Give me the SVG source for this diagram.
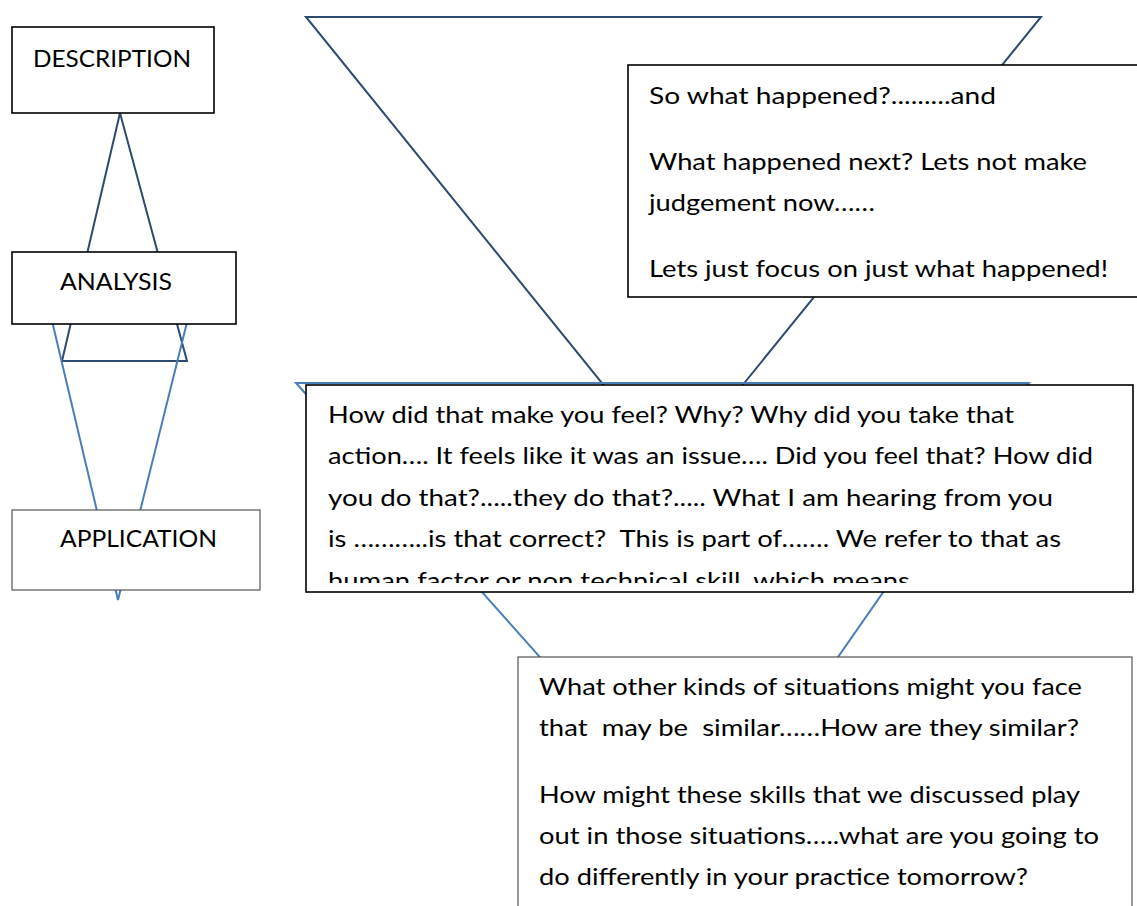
<svg xmlns="http://www.w3.org/2000/svg" width="1137" height="906" viewBox="0 0 1137 906">
<defs>
<style>
.dark{fill:none;stroke:#2E4A6E;stroke-width:2}
.light{fill:none;stroke:#4A7EBB;stroke-width:2}
.box{fill:#fff;stroke:#000;stroke-width:1.6}
.gbox{fill:#fff;stroke:#555;stroke-width:1.2}
.t{font-family:Lato,"Open Sans",sans-serif;font-size:24px;fill:#000;white-space:pre}
</style>
<clipPath id="midclip"><rect x="307" y="386" width="825" height="197"/></clipPath>
</defs>
<g id="connectors">
<polygon class="dark" points="306,17 1041,17 673,471"/>
<polygon class="light" points="296,383 1029,383 707,845"/>
<polygon class="dark" points="120,113 62,361 187,361"/>
<polygon class="light" points="40,270 200,270 118,600"/>
</g>
<g id="description">
<rect class="box" x="12" y="27" width="202" height="86"/>
<text class="t" x="33" y="67" textLength="158" lengthAdjust="spacingAndGlyphs">DESCRIPTION</text>
</g>
<g id="analysis">
<rect class="box" x="12" y="252" width="224" height="72"/>
<text class="t" x="60" y="290" textLength="112" lengthAdjust="spacingAndGlyphs">ANALYSIS</text>
</g>
<g id="application">
<rect class="gbox" x="12" y="510" width="248" height="80"/>
<text class="t" x="60" y="547" textLength="157" lengthAdjust="spacingAndGlyphs">APPLICATION</text>
</g>
<g id="what-happened">
<rect class="box" x="628" y="65" width="520" height="232"/>
<text class="t" x="649" y="104" textLength="347" lengthAdjust="spacingAndGlyphs">So what happened?.........and</text>
<text class="t" x="649" y="170" textLength="438" lengthAdjust="spacingAndGlyphs">What happened next? Lets not make</text>
<text class="t" x="649" y="211" textLength="226" lengthAdjust="spacingAndGlyphs">judgement now……</text>
<text class="t" x="649" y="277" textLength="459" lengthAdjust="spacingAndGlyphs">Lets just focus on just what happened!</text>
</g>
<g id="feelings">
<rect class="box" x="306" y="385" width="827" height="207"/>
<g clip-path="url(#midclip)">
<text class="t" x="328" y="423" textLength="686" lengthAdjust="spacingAndGlyphs">How did that make you feel? Why? Why did you take that</text>
<text class="t" x="328" y="464" textLength="765" lengthAdjust="spacingAndGlyphs">action…. It feels like it was an issue…. Did you feel that? How did</text>
<text class="t" x="328" y="506" textLength="725" lengthAdjust="spacingAndGlyphs">you do that?.....they do that?..... What I am hearing from you</text>
<text class="t" x="328" y="547" textLength="733" lengthAdjust="spacingAndGlyphs">is ………..is that correct?  This is part of……. We refer to that as</text>
<text class="t" x="328" y="589" textLength="582" lengthAdjust="spacingAndGlyphs">human factor or non technical skill, which means</text>
</g>
</g>
<g id="application-questions">
<rect class="gbox" x="518" y="657" width="614" height="260"/>
<text class="t" x="539" y="695" textLength="543" lengthAdjust="spacingAndGlyphs">What other kinds of situations might you face</text>
<text class="t" x="539" y="736" textLength="540" lengthAdjust="spacingAndGlyphs">that  may be  similar……How are they similar?</text>
<text class="t" x="539" y="803" textLength="541" lengthAdjust="spacingAndGlyphs">How might these skills that we discussed play</text>
<text class="t" x="539" y="844" textLength="560" lengthAdjust="spacingAndGlyphs">out in those situations…..what are you going to</text>
<text class="t" x="539" y="885" textLength="489" lengthAdjust="spacingAndGlyphs">do differently in your practice tomorrow?</text>
</g>
</svg>
